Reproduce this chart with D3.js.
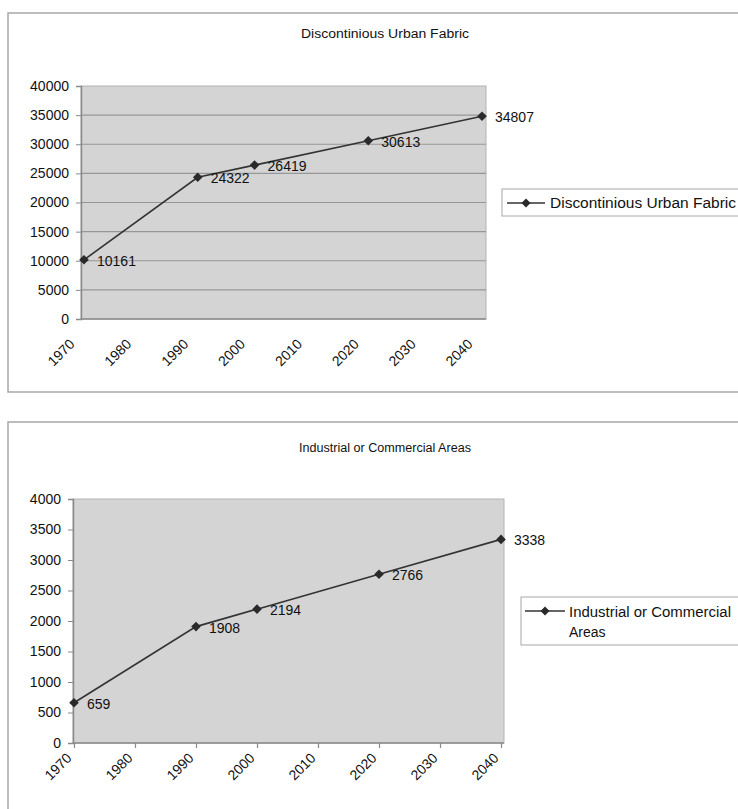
<!DOCTYPE html>
<html><head><meta charset="utf-8">
<script src="https://cdn.jsdelivr.net/npm/d3@7"></script>
<style>
body{margin:0;background:#fff;}
svg{display:block;font-family:"Liberation Sans",Arial,sans-serif;}
</style></head>
<body><svg id="c" width="738" height="809"></svg>
<script>
// ---- data ----
const years = [1970, 1990, 2000, 2020, 2040];
const urbanValues = [10161, 24322, 26419, 30613, 34807];
const industrialValues = [659, 1908, 2194, 2766, 3338];
const xTickLabels = [1970, 1980, 1990, 2000, 2010, 2020, 2030, 2040];
const urbanYTicks = [0, 5000, 10000, 15000, 20000, 25000, 30000, 35000, 40000];
const industrialYTicks = [0, 500, 1000, 1500, 2000, 2500, 3000, 3500, 4000];
const titles = ["Discontinious Urban Fabric", "Industrial or Commercial Areas"];

const svg = d3.select("#c");
const diamond = (r) => `M0,${-r}L${r},0L0,${r}L${-r},0Z`;

function drawChart(cfg) {
  const g = svg.append("g");
  // outer frame
  g.append("rect").attr("x", cfg.box[0]).attr("y", cfg.box[1])
    .attr("width", cfg.box[2]).attr("height", cfg.box[3])
    .attr("fill", "#fff").attr("stroke", "#a8a8a8").attr("stroke-width", 1.5);
  // title
  g.append("text").attr("x", 385).attr("y", cfg.titleY)
    .attr("text-anchor", "middle").attr("font-size", 12.5).attr("fill", "#111")
    .attr("textLength", cfg.titleLen).attr("lengthAdjust", "spacingAndGlyphs")
    .text(cfg.title);

  const x = d3.scaleLinear().domain([1970, 2040]).range(cfg.xRange);
  const y = d3.scaleLinear().domain([0, cfg.yMax]).range([cfg.plot.bottom, cfg.plot.top]);

  // plot area
  g.append("rect").attr("x", cfg.plot.left).attr("y", cfg.plot.top)
    .attr("width", cfg.plot.right - cfg.plot.left).attr("height", cfg.plot.bottom - cfg.plot.top)
    .attr("fill", "#d4d4d4").attr("stroke", "#b4b4b4").attr("stroke-width", 1);

  if (cfg.grid) {
    g.append("g").selectAll("line").data(cfg.yTicks.slice(1, -1)).join("line")
      .attr("x1", cfg.plot.left).attr("x2", cfg.plot.right)
      .attr("y1", d => y(d)).attr("y2", d => y(d))
      .attr("stroke", "#979797").attr("stroke-width", 1.2);
  }

  // y axis
  const ya = g.append("g").attr("transform", `translate(${cfg.plot.left},0)`)
    .call(d3.axisLeft(y).tickValues(cfg.yTicks).tickSize(5).tickPadding(7).tickFormat(d3.format("d")));
  ya.select(".domain").attr("stroke", "#8a8a8a").attr("stroke-width", 1.5);
  ya.selectAll(".tick line").attr("stroke", "#8a8a8a");
  ya.selectAll("text").attr("font-size", 14).attr("fill", "#111")
    .attr("font-family", '"Liberation Sans",Arial,sans-serif');

  // x axis
  const xa = g.append("g").attr("transform", `translate(0,${cfg.plot.bottom})`)
    .call(d3.axisBottom(x).tickValues(xTickLabels).tickSize(cfg.xTickSize).tickFormat(d3.format("d")));
  xa.select(".domain").attr("d", `M${cfg.plot.left},0H${cfg.plot.right}`)
    .attr("stroke", "#8a8a8a").attr("stroke-width", 1.5);
  xa.selectAll(".tick line").attr("stroke", "#8a8a8a").attr("stroke-width", 1.2);
  xa.selectAll("text").attr("font-size", 14).attr("fill", "#111")
    .attr("font-family", '"Liberation Sans",Arial,sans-serif')
    .attr("text-anchor", "end").attr("dy", 0).attr("y", 0)
    .attr("transform", `translate(${cfg.labelDx},${cfg.labelDy}) rotate(-45)`);

  // line
  const pts = years.map((yr, i) => [yr, cfg.values[i]]);
  g.append("path").datum(pts)
    .attr("d", d3.line().x(d => x(d[0])).y(d => y(d[1])))
    .attr("fill", "none").attr("stroke", "#333").attr("stroke-width", 1.6);
  g.append("g").selectAll("path").data(pts).join("path")
    .attr("d", diamond(4.8)).attr("fill", "#2a2a2a")
    .attr("transform", d => `translate(${x(d[0])},${y(d[1])})`);
  g.append("g").selectAll("text").data(pts).join("text")
    .attr("x", d => x(d[0]) + 13).attr("y", d => y(d[1]) + 1)
    .attr("dy", "0.35em").attr("font-size", 14).attr("fill", "#111")
    .text(d => d[1]);

  // legend
  const L = cfg.legend;
  g.append("rect").attr("x", L.x).attr("y", L.y).attr("width", 300).attr("height", L.h)
    .attr("fill", "#fff").attr("stroke", "#a8a8a8").attr("stroke-width", 1);
  g.append("line").attr("x1", L.lx1).attr("x2", L.lx2).attr("y1", L.ly).attr("y2", L.ly)
    .attr("stroke", "#333").attr("stroke-width", 1.6);
  g.append("path").attr("d", diamond(4.5)).attr("fill", "#2a2a2a")
    .attr("transform", `translate(${(L.lx1 + L.lx2) / 2},${L.ly})`);
  L.lines.forEach((t, i) => {
    const tx = g.append("text").attr("x", L.tx).attr("y", L.ty + i * 20)
      .attr("dy", "0.35em").attr("font-size", 14).attr("fill", "#111").text(t.text);
    if (t.len) tx.attr("textLength", t.len).attr("lengthAdjust", "spacingAndGlyphs");
  });
}

drawChart({
  box: [8, 13, 800, 379], title: titles[0], titleY: 37.5, titleLen: 168,
  plot: {left: 81, right: 486, top: 86, bottom: 319},
  xRange: [84, 482], yMax: 40000, yTicks: urbanYTicks, values: urbanValues,
  grid: true, xTickSize: 0, labelDx: -9, labelDy: 26,
  legend: {x: 502, y: 189, h: 27, lx1: 507, lx2: 545, ly: 203, tx: 550, ty: 203,
    lines: [{text: "Discontinious Urban Fabric", len: 186}]}
});

drawChart({
  box: [8, 422, 800, 420], title: titles[1], titleY: 451.5, titleLen: 172,
  plot: {left: 73, right: 504, top: 499, bottom: 743},
  xRange: [74, 501], yMax: 4000, yTicks: industrialYTicks, values: industrialValues,
  grid: false, xTickSize: 5, labelDx: -2, labelDy: 16,
  legend: {x: 521, y: 597, h: 48, lx1: 525, lx2: 565, ly: 611, tx: 569, ty: 612,
    lines: [{text: "Industrial or Commercial", len: 162}, {text: "Areas", len: 0}]}
});
</script></body></html>
